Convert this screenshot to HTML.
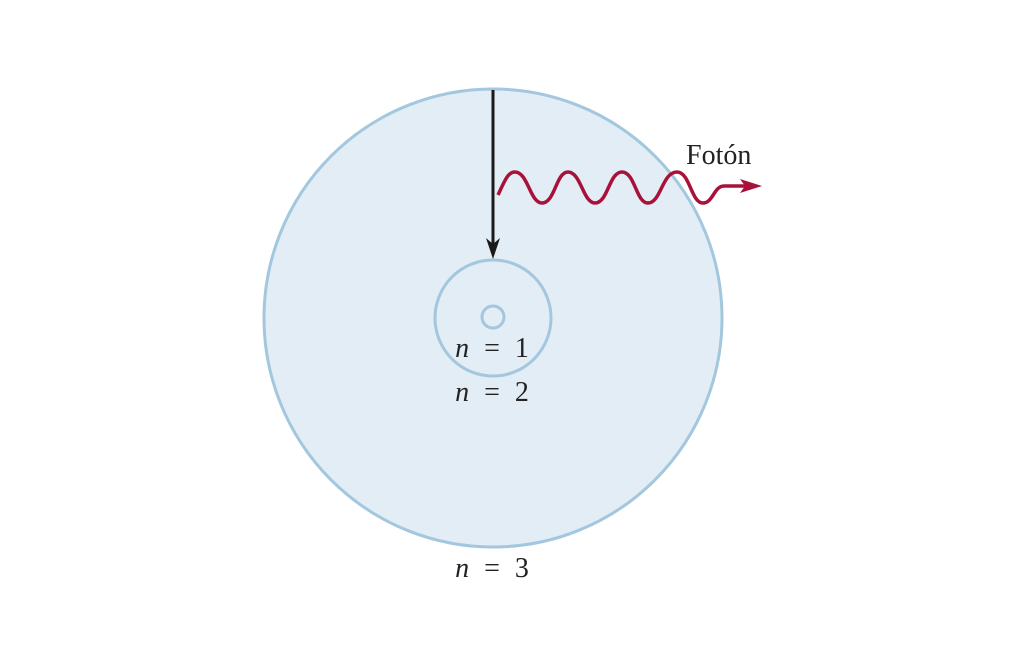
<!DOCTYPE html>
<html><head><style>body{margin:0;background:#fff}svg{display:block}</style></head><body>
<svg width="1024" height="665" viewBox="0 0 1024 665" xmlns="http://www.w3.org/2000/svg">
<circle cx="493" cy="318" r="229" fill="#e3edf5" stroke="#a3c7de" stroke-width="3"/>
<circle cx="493" cy="318" r="58" fill="none" stroke="#a3c7de" stroke-width="3"/>
<circle cx="493" cy="317" r="11" fill="none" stroke="#a3c7de" stroke-width="3"/>
<line x1="493" y1="90" x2="493" y2="246" stroke="#1a1a1a" stroke-width="3"/>
<polygon points="486,238 493,259 500,238 493,244" fill="#1a1a1a"/>
<path d="M498,195 C505,180 508,172 515,172 C528,172 530,203 542,203 C555,203 556,172 568,172 C581,172 583,203 595,203 C608,203 609,172 622,172 C635,172 636,203 648,203 C661,203 662,172 677,172 C690,172 691,203 703,203 C713,203 714,186 724,186 L750,186" fill="none" stroke="#a8123a" stroke-width="3.5"/>
<polygon points="740,179 762,186 740,193 745,186" fill="#a8123a"/>
<g font-family="Liberation Serif, serif" font-size="28" fill="#222">
<text x="686" y="164">Fotón</text>
<text x="492" y="357" text-anchor="middle" word-spacing="8"><tspan font-style="italic">n</tspan> = 1</text>
<text x="492" y="401" text-anchor="middle" word-spacing="8"><tspan font-style="italic">n</tspan> = 2</text>
<text x="492" y="577" text-anchor="middle" word-spacing="8"><tspan font-style="italic">n</tspan> = 3</text>
</g>
</svg>
</body></html>
